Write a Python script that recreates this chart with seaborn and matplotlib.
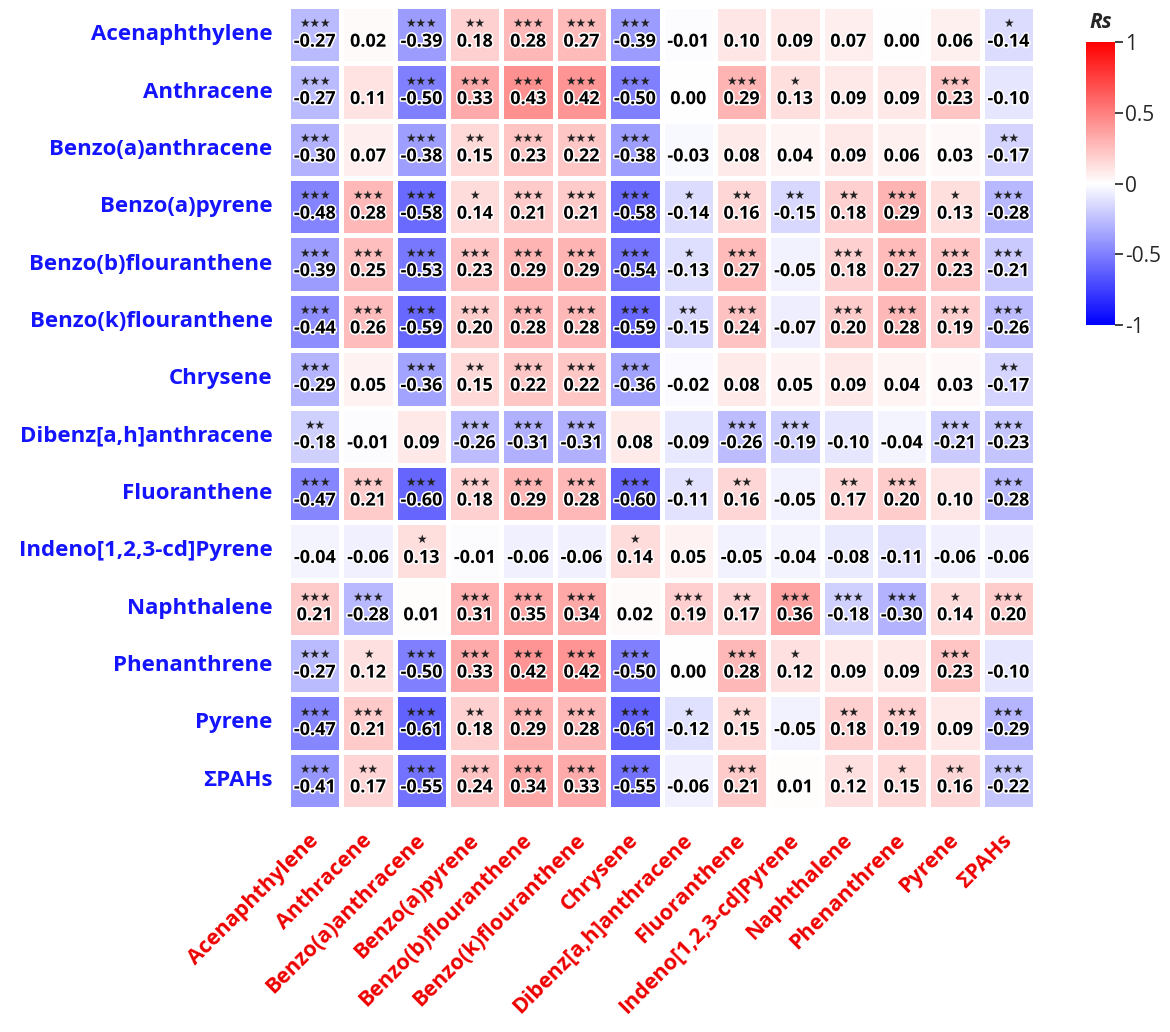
import numpy as np
import pandas as pd
import matplotlib
matplotlib.use("Agg")
import matplotlib.pyplot as plt
import matplotlib.patheffects as pe
from matplotlib.colors import LinearSegmentedColormap
from matplotlib.transforms import offset_copy, ScaledTranslation
import seaborn as sns

compounds = ["Acenaphthylene", "Anthracene", "Benzo(a)anthracene", "Benzo(a)pyrene",
             "Benzo(b)flouranthene", "Benzo(k)flouranthene", "Chrysene",
             "Dibenz[a,h]anthracene", "Fluoranthene", "Indeno[1,2,3-cd]Pyrene",
             "Naphthalene", "Phenanthrene", "Pyrene", "ΣPAHs"]

rs_values = [
    [-0.27, 0.02, -0.39, 0.18, 0.28, 0.27, -0.39, -0.01, 0.10, 0.09, 0.07, 0.00, 0.06, -0.14],
    [-0.27, 0.11, -0.50, 0.33, 0.43, 0.42, -0.50, 0.00, 0.29, 0.13, 0.09, 0.09, 0.23, -0.10],
    [-0.30, 0.07, -0.38, 0.15, 0.23, 0.22, -0.38, -0.03, 0.08, 0.04, 0.09, 0.06, 0.03, -0.17],
    [-0.48, 0.28, -0.58, 0.14, 0.21, 0.21, -0.58, -0.14, 0.16, -0.15, 0.18, 0.29, 0.13, -0.28],
    [-0.39, 0.25, -0.53, 0.23, 0.29, 0.29, -0.54, -0.13, 0.27, -0.05, 0.18, 0.27, 0.23, -0.21],
    [-0.44, 0.26, -0.59, 0.20, 0.28, 0.28, -0.59, -0.15, 0.24, -0.07, 0.20, 0.28, 0.19, -0.26],
    [-0.29, 0.05, -0.36, 0.15, 0.22, 0.22, -0.36, -0.02, 0.08, 0.05, 0.09, 0.04, 0.03, -0.17],
    [-0.18, -0.01, 0.09, -0.26, -0.31, -0.31, 0.08, -0.09, -0.26, -0.19, -0.10, -0.04, -0.21, -0.23],
    [-0.47, 0.21, -0.60, 0.18, 0.29, 0.28, -0.60, -0.11, 0.16, -0.05, 0.17, 0.20, 0.10, -0.28],
    [-0.04, -0.06, 0.13, -0.01, -0.06, -0.06, 0.14, 0.05, -0.05, -0.04, -0.08, -0.11, -0.06, -0.06],
    [0.21, -0.28, 0.01, 0.31, 0.35, 0.34, 0.02, 0.19, 0.17, 0.36, -0.18, -0.30, 0.14, 0.20],
    [-0.27, 0.12, -0.50, 0.33, 0.42, 0.42, -0.50, 0.00, 0.28, 0.12, 0.09, 0.09, 0.23, -0.10],
    [-0.47, 0.21, -0.61, 0.18, 0.29, 0.28, -0.61, -0.12, 0.15, -0.05, 0.18, 0.19, 0.09, -0.29],
    [-0.41, 0.17, -0.55, 0.24, 0.34, 0.33, -0.55, -0.06, 0.21, 0.01, 0.12, 0.15, 0.16, -0.22],
]

stars = [
    [3, 0, 3, 2, 3, 3, 3, 0, 0, 0, 0, 0, 0, 1],
    [3, 0, 3, 3, 3, 3, 3, 0, 3, 1, 0, 0, 3, 0],
    [3, 0, 3, 2, 3, 3, 3, 0, 0, 0, 0, 0, 0, 2],
    [3, 3, 3, 1, 3, 3, 3, 1, 2, 2, 2, 3, 1, 3],
    [3, 3, 3, 3, 3, 3, 3, 1, 3, 0, 3, 3, 3, 3],
    [3, 3, 3, 3, 3, 3, 3, 2, 3, 0, 3, 3, 3, 3],
    [3, 0, 3, 2, 3, 3, 3, 0, 0, 0, 0, 0, 0, 2],
    [2, 0, 0, 3, 3, 3, 0, 0, 3, 3, 0, 0, 3, 3],
    [3, 3, 3, 3, 3, 3, 3, 1, 2, 0, 2, 3, 0, 3],
    [0, 0, 1, 0, 0, 0, 1, 0, 0, 0, 0, 0, 0, 0],
    [3, 3, 0, 3, 3, 3, 0, 3, 2, 3, 3, 3, 1, 3],
    [3, 1, 3, 3, 3, 3, 3, 0, 3, 1, 0, 0, 3, 0],
    [3, 3, 3, 2, 3, 3, 3, 1, 2, 0, 2, 3, 0, 3],
    [3, 2, 3, 3, 3, 3, 3, 0, 3, 0, 1, 1, 2, 3],
]

cbar_ticks = [-1, -0.5, 0, 0.5, 1]
cbar_labels = ["-1", "-0.5", "0", "0.5", "1"]

sns.set_style("white")
plt.rcParams["font.family"] = ["Open Sans", "DejaVu Sans"]

df = pd.DataFrame(rs_values, index=compounds, columns=compounds)
cmap = LinearSegmentedColormap.from_list("bwr_pure", ["#0000ff", "#ffffff", "#ff0000"])

W, H = 1170, 1032
fig = plt.figure(figsize=(W / 100, H / 100), dpi=100)
ax = fig.add_axes([288 / W, 1 - 809 / H, 747 / W, 803 / H])
cax = fig.add_axes([1086 / W, 1 - 325 / H, 29 / W, 283 / H])

sns.heatmap(df, ax=ax, cbar_ax=cax, cmap=cmap, vmin=-1, vmax=1,
            linewidths=2.2, linecolor="white", annot=False)

num_tr = offset_copy(ax.transData, fig=fig, x=0, y=-7, units="dots")
star_tr = offset_copy(ax.transData, fig=fig, x=0, y=11, units="dots")
halo = [pe.withStroke(linewidth=2.2, foreground="white")]
for i in range(len(compounds)):
    for j in range(len(compounds)):
        v = rs_values[i][j]
        ax.text(j + 0.5, i + 0.5, f"{v:.2f}", transform=num_tr, ha="center", va="center",
                fontsize=13, fontweight="bold", color="black", path_effects=halo)
        if stars[i][j]:
            ax.text(j + 0.5, i + 0.5, "★" * stars[i][j], transform=star_tr, ha="center",
                    va="center", fontsize=8.5, color="#222222", family=["DejaVu Sans"])

ax.tick_params(axis="both", length=0)
ax.set_xlabel("")
ax.set_ylabel("")
ax.set_yticklabels(compounds, rotation=0, color="#1414ff", fontsize=16, fontweight="bold")
ax.tick_params(axis="y", pad=11)
ax.set_xticklabels(compounds, rotation=45, ha="right", va="top", rotation_mode="anchor",
                   color="#ee0000", fontsize=15.5, fontweight="bold")
ax.tick_params(axis="x", pad=15)
shift = ScaledTranslation(-7 / 100, 0, fig.dpi_scale_trans)
for lab in ax.get_xticklabels():
    lab.set_transform(lab.get_transform() + shift)

cbar = ax.collections[0].colorbar
cbar.outline.set_visible(False)
cbar.set_ticks(cbar_ticks)
cbar.set_ticklabels(cbar_labels)
cax.tick_params(axis="y", length=6, width=1.2, labelsize=15, pad=1, color="#222222")
cax.set_title("Rs", fontsize=15, fontweight="bold", style="italic", pad=10)

fig.savefig("out.png", dpi=100)
